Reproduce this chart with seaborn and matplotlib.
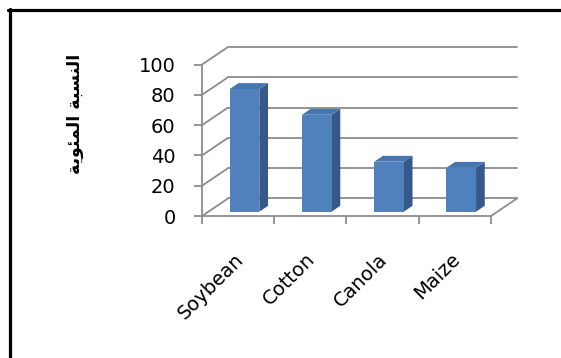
import matplotlib
matplotlib.use("Agg")
import matplotlib.pyplot as plt
import seaborn as sns
import pandas as pd
from matplotlib.patches import Polygon
from matplotlib.lines import Line2D
from matplotlib.transforms import ScaledTranslation

# ---- data ----
categories = ["Soybean", "Cotton", "Canola", "Maize"]
values = [81, 64, 33, 29]
y_ticks = [0, 20, 40, 60, 80, 100]
# "النسبة المئوية" written with Arabic presentation forms in visual order
y_label = "\uFE94\uFEF3\uFEEE\uFE8C\uFEE4\uFEDF\uFE8D \uFE94\uFE92\uFEB4\uFEE8\uFEDF\uFE8D"

sns.set_theme(style="white")
plt.rcParams['font.family'] = ['DejaVu Sans']

GRID = "#8C8C8C"
FRONT = "#4F81BD"
SIDE = "#36588A"
TOP = "#4675B0"

W, H = 561, 358
fig = plt.figure(figsize=(W / 100, H / 100), dpi=100)
ax = fig.add_axes([202 / W, (H - 216) / H, 315 / W, 169 / H])

DEPTH_X, DEPTH_Y = 0.36, 11.6     # full depth of the 3-D box (data units)
BAR_F0, BAR_F1 = 0.245, 0.58      # depth fractions of bar front/back

df = pd.DataFrame({"crop": categories, "pct": values})
sns.barplot(data=df, x="crop", y="pct", color=FRONT, saturation=1,
            width=0.41, ax=ax, zorder=4, linewidth=0)

n = len(categories)
x0, x1 = -0.5, n - 0.5

# walls / floor
for t in y_ticks:
    ax.plot([x0, x0 + DEPTH_X], [t, t + DEPTH_Y], color=GRID, lw=1.3,
            zorder=1, solid_capstyle="butt", clip_on=False)
    ax.plot([x0 + DEPTH_X, x1 + DEPTH_X], [t + DEPTH_Y, t + DEPTH_Y],
            color=GRID, lw=1.3, zorder=1, clip_on=False)
ax.plot([x1, x1 + DEPTH_X], [0, DEPTH_Y], color=GRID, lw=1.3, zorder=1,
        clip_on=False)

# 3-D bar faces
bx, by = DEPTH_X * BAR_F0, DEPTH_Y * BAR_F0
dx, dy = DEPTH_X * (BAR_F1 - BAR_F0), DEPTH_Y * (BAR_F1 - BAR_F0)
for p in list(ax.patches):
    p.set_x(p.get_x() + bx)
    p.set_y(p.get_y() + by)
    x, y, w, h = p.get_x(), p.get_y(), p.get_width(), p.get_height()
    side = Polygon([(x + w, y), (x + w + dx, y + dy), (x + w + dx, y + h + dy),
                    (x + w, y + h)], closed=True, facecolor=SIDE, lw=0, zorder=3)
    top = Polygon([(x, y + h), (x + w, y + h), (x + w + dx, y + h + dy),
                   (x + dx, y + h + dy)], closed=True, facecolor=TOP, lw=0, zorder=3)
    ax.add_patch(side)
    ax.add_patch(top)

ax.set_xlim(x0, x1 + DEPTH_X)
ax.set_ylim(0, 100 + DEPTH_Y)
ax.set_xlabel("")
ax.set_ylabel("")

for s in ["top", "right"]:
    ax.spines[s].set_visible(False)
ax.spines["left"].set_bounds(0, 100)
ax.spines["bottom"].set_bounds(x0, x1)
for s in ["left", "bottom"]:
    ax.spines[s].set_color(GRID)
    ax.spines[s].set_linewidth(1.3)
    ax.spines[s].set_zorder(2)

ax.set_yticks(y_ticks)
ax.tick_params(axis="y", left=True, length=6, width=1.3, color=GRID,
               direction="out", pad=13, labelsize=14, labelcolor="black")
ax.set_xticks(range(n))
ax.set_xticklabels(categories)
ax.set_xticks([i - 0.5 for i in range(n + 1)], minor=True)
ax.tick_params(axis="x", which="major", bottom=True, length=0, pad=32,
               labelsize=14, labelcolor="black")
ax.tick_params(axis="x", which="minor", bottom=True, length=6, width=1.3,
               color=GRID, direction="out")
off = ScaledTranslation(6 / 100, 0, fig.dpi_scale_trans)
for lbl in ax.get_xticklabels():
    lbl.set_rotation(45)
    lbl.set_ha("right")
    lbl.set_va("baseline")
    lbl.set_rotation_mode("anchor")
    lbl.set_transform(lbl.get_transform() + off)

fig.text(74.5 / W, 1 - 113.5 / H, y_label, rotation=90, ha="center",
         va="center", fontsize=12.5, fontweight="bold", color="black")

# outer frame (top and left edges)
fig.add_artist(Line2D([8 / W, 1], [1 - 10 / H] * 2, transform=fig.transFigure,
                      color="black", lw=2.3))
fig.add_artist(Line2D([9.5 / W] * 2, [1 - 9 / H, 0], transform=fig.transFigure,
                      color="black", lw=2.3))

fig.savefig("out.png", dpi=100)
